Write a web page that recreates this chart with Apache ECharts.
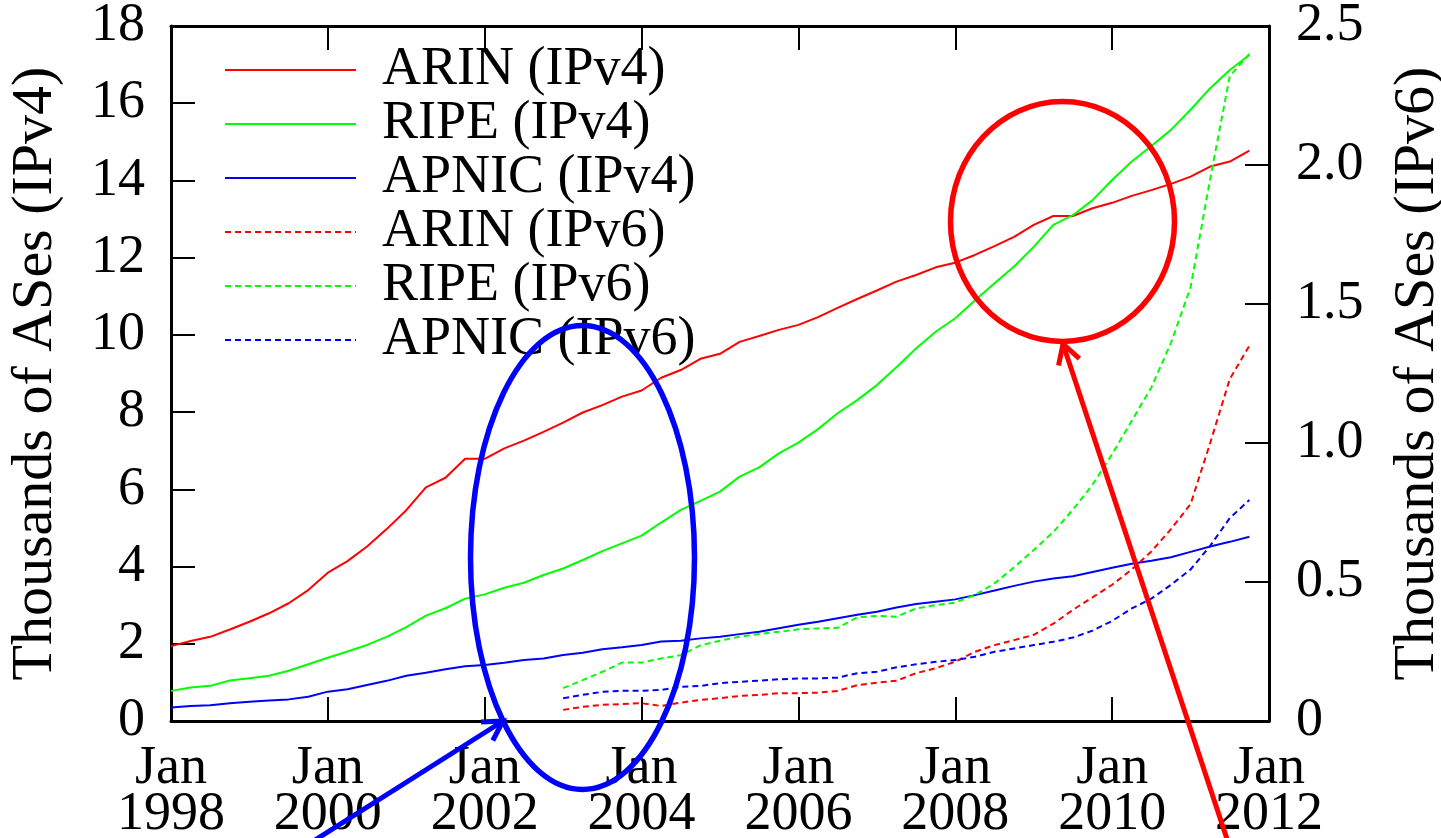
<!DOCTYPE html>
<html><head><meta charset="utf-8">
<script src="https://cdn.jsdelivr.net/npm/echarts@6/dist/echarts.min.js"></script>
<style>html,body{margin:0;padding:0;background:#fff}#c{width:1441px;height:838px}</style>
</head><body><div id="c"></div><script>
// Quarterly sample dates (category axis)
const quarters = [
 '1998-01','1998-04','1998-07','1998-10','1999-01','1999-04','1999-07','1999-10',
 '2000-01','2000-04','2000-07','2000-10','2001-01','2001-04','2001-07','2001-10',
 '2002-01','2002-04','2002-07','2002-10','2003-01','2003-04','2003-07','2003-10',
 '2004-01','2004-04','2004-07','2004-10','2005-01','2005-04','2005-07','2005-10',
 '2006-01','2006-04','2006-07','2006-10','2007-01','2007-04','2007-07','2007-10',
 '2008-01','2008-04','2008-07','2008-10','2009-01','2009-04','2009-07','2009-10',
 '2010-01','2010-04','2010-07','2010-10','2011-01','2011-04','2011-07','2011-10',
 '2012-01'];
const seriesNames = ['ARIN (IPv4)','RIPE (IPv4)','APNIC (IPv4)','ARIN (IPv6)','RIPE (IPv6)','APNIC (IPv6)'];
// Thousands of ASes (IPv4), left axis
const arinV4 = [1.94,2.07,2.18,2.37,2.57,2.79,3.05,3.39,3.84,4.14,4.52,4.97,5.46,6.05,6.30,6.79,
 6.79,7.06,7.26,7.49,7.73,7.99,8.18,8.40,8.56,8.89,9.09,9.38,9.51,9.82,9.97,10.13,
 10.26,10.46,10.70,10.93,11.15,11.38,11.55,11.75,11.87,12.07,12.30,12.54,12.85,13.08,13.08,13.28,
 13.42,13.60,13.75,13.91,14.10,14.36,14.49,14.77];
const ripeV4 = [0.78,0.87,0.91,1.05,1.11,1.17,1.30,1.47,1.64,1.80,1.97,2.18,2.43,2.73,2.92,3.17,
 3.28,3.45,3.58,3.78,3.95,4.17,4.40,4.60,4.80,5.14,5.47,5.70,5.94,6.33,6.57,6.93,
 7.21,7.56,7.97,8.31,8.70,9.16,9.65,10.08,10.43,10.89,11.34,11.77,12.28,12.85,13.10,13.49,
 14.01,14.49,14.89,15.31,15.83,16.39,16.86,17.25];
const apnicV4 = [0.35,0.39,0.41,0.46,0.50,0.53,0.56,0.63,0.76,0.82,0.93,1.04,1.17,1.25,1.34,1.42,
 1.45,1.51,1.58,1.62,1.71,1.77,1.86,1.91,1.97,2.06,2.08,2.14,2.18,2.25,2.31,2.40,
 2.49,2.57,2.66,2.75,2.83,2.94,3.03,3.09,3.15,3.26,3.38,3.50,3.61,3.69,3.75,3.86,
 3.97,4.07,4.15,4.24,4.38,4.52,4.64,4.77];
// Thousands of ASes (IPv6), right axis (no data before 2003)
const arinV6 = [null,null,null,null,null,null,null,null,null,null,null,null,null,null,null,null,
 null,null,null,null,0.040,0.051,0.058,0.061,0.064,0.054,0.066,0.076,0.082,0.090,0.094,0.100,
 0.100,0.102,0.108,0.129,0.138,0.145,0.172,0.190,0.213,0.249,0.273,0.291,0.310,0.350,0.400,0.445,
 0.490,0.545,0.610,0.690,0.780,1.000,1.230,1.350];
const ripeV6 = [null,null,null,null,null,null,null,null,null,null,null,null,null,null,null,null,
 null,null,null,null,0.118,0.147,0.177,0.210,0.210,0.225,0.237,0.272,0.289,0.303,0.313,0.321,
 0.330,0.333,0.335,0.373,0.378,0.375,0.405,0.417,0.426,0.453,0.495,0.553,0.615,0.680,0.760,0.850,
 0.960,1.080,1.200,1.360,1.560,1.950,2.320,2.400];
const apnicV6 = [null,null,null,null,null,null,null,null,null,null,null,null,null,null,null,null,
 null,null,null,null,0.082,0.094,0.105,0.109,0.109,0.112,0.123,0.126,0.136,0.141,0.145,0.150,
 0.153,0.153,0.156,0.172,0.177,0.193,0.204,0.213,0.219,0.231,0.249,0.261,0.273,0.285,0.300,0.325,
 0.360,0.405,0.440,0.490,0.545,0.630,0.730,0.795];
const rightTickLabels = ['0','0.5','1.0','1.5','2.0','2.5'];

const FONT = 'Liberation Serif';
const RED = '#ff0000', GREEN = '#00ff00', BLUE = '#0000ff';
const chart = echarts.init(document.getElementById('c'), null, {renderer: 'canvas'});

function mkSeries(name, data, color, dashed, axis) {
  return {
    name, type: 'line', data, yAxisIndex: axis, symbol: 'none', connectNulls: false,
    lineStyle: {color, width: 2, type: dashed ? [6, 4] : 'solid'},
    itemStyle: {color}, z: 3
  };
}

function arrow(x0, y0, x1, y1, color) {
  const dx = x1 - x0, dy = y1 - y0, L = Math.hypot(dx, dy);
  const ux = -dx / L, uy = -dy / L, len = 22, c = Math.cos(Math.PI / 6), s = Math.sin(Math.PI / 6);
  const b1 = [x1 + len * (ux * c - uy * s), y1 + len * (ux * s + uy * c)];
  const b2 = [x1 + len * (ux * c + uy * s), y1 + len * (-ux * s + uy * c)];
  return [
    {type: 'line', shape: {x1: x0, y1: y0, x2: x1, y2: y1}, style: {stroke: color, lineWidth: 5}, z: 10},
    {type: 'polyline', shape: {points: [b1, [x1, y1], b2]}, style: {stroke: color, lineWidth: 5, fill: null, lineJoin: 'miter'}, z: 10}
  ];
}

const tickCommon = {show: true, inside: true, length: 24, lineStyle: {color: '#000', width: 2}};
const lineCommon = {show: true, onZero: false, lineStyle: {color: '#000', width: 3}};

chart.setOption({
  animation: false,
  backgroundColor: '#fff',
  grid: {left: 171, right: 172, top: 26, bottom: 117, containLabel: false, outerBoundsMode: 'none'},
  legend: {
    orient: 'vertical', left: 224, top: 43, padding: 0, itemWidth: 131, itemHeight: 2, itemGap: 0,
    data: seriesNames,
    itemStyle: {opacity: 0},
    textStyle: {fontFamily: FONT, fontSize: 54, color: '#000', lineHeight: 39, padding: [6, 0, 0, 21]}
  },
  xAxis: [{
    type: 'category', data: quarters, boundaryGap: false, position: 'bottom',
    axisLine: lineCommon,
    axisTick: Object.assign({interval: 7}, tickCommon),
    axisLabel: {interval: 7, margin: 25, fontFamily: FONT, fontSize: 54, color: '#000', lineHeight: 46,
      formatter: v => 'Jan\n' + v.slice(0, 4)},
    splitLine: {show: false}
  }, {
    type: 'category', data: quarters, boundaryGap: false, position: 'top',
    axisLine: lineCommon,
    axisTick: Object.assign({interval: 7}, tickCommon),
    axisLabel: {show: false}, splitLine: {show: false}
  }],
  yAxis: [{
    type: 'value', min: 0, max: 18, interval: 2, position: 'left',
    axisLine: lineCommon, axisTick: tickCommon, splitLine: {show: false},
    axisLabel: {margin: 26, fontFamily: FONT, fontSize: 54, color: '#000', padding: [8, 0, 0, 0]},
    name: 'Thousands of ASes (IPv4)', nameLocation: 'middle', nameRotate: 90, nameGap: 106,
    nameTextStyle: {fontFamily: FONT, fontSize: 58, color: '#000'}
  }, {
    type: 'value', min: 0, max: 2.5, interval: 0.5, position: 'right',
    axisLine: lineCommon, axisTick: tickCommon, splitLine: {show: false},
    axisLabel: {margin: 27, fontFamily: FONT, fontSize: 54, color: '#000', padding: [8, 0, 0, 0],
      formatter: (v) => rightTickLabels[Math.round(v / 0.5)]},
    name: 'Thousands of ASes (IPv6)', nameLocation: 'middle', nameRotate: 90, nameGap: 120,
    nameTextStyle: {fontFamily: FONT, fontSize: 58, color: '#000'}
  }],
  series: [
    mkSeries(seriesNames[0], arinV4, RED, false, 0),
    mkSeries(seriesNames[1], ripeV4, GREEN, false, 0),
    mkSeries(seriesNames[2], apnicV4, BLUE, false, 0),
    mkSeries(seriesNames[3], arinV6, RED, true, 1),
    mkSeries(seriesNames[4], ripeV6, GREEN, true, 1),
    mkSeries(seriesNames[5], apnicV6, BLUE, true, 1)
  ],
  graphic: [
    {type: 'ellipse', shape: {cx: 582.5, cy: 557.5, rx: 112, ry: 232}, style: {fill: null, stroke: BLUE, lineWidth: 5.5}, z: 10},
    {type: 'ellipse', shape: {cx: 1062.5, cy: 221.5, rx: 112, ry: 120}, style: {fill: null, stroke: RED, lineWidth: 5.5}, z: 10}
  ].concat(arrow(312, 842, 503, 721, BLUE)).concat(arrow(1228, 842, 1063, 344, RED))
});
</script></body></html>
